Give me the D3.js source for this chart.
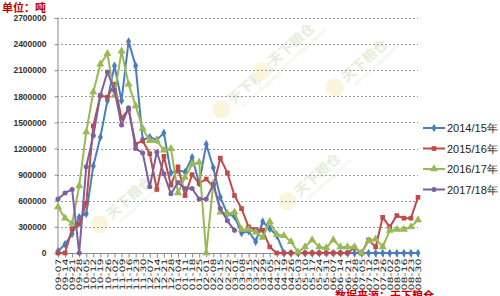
<!DOCTYPE html>
<html>
<head>
<meta charset="utf-8">
<script src="https://cdn.jsdelivr.net/npm/d3@7"></script>
<style>
  body { margin: 0; background: #fff; }
  svg { display: block; }
</style>
</head>
<body>
<div id="chart"></div>
<script>
// weekly dates
var weeks = ["09-07","09-14","09-21","09-28","10-05","10-12","10-19","10-26","11-02","11-09",
  "11-16","11-23","11-30","12-07","12-14","12-21","12-28","01-04","01-11","01-18",
  "01-25","02-01","02-08","02-15","02-22","03-01","03-08","03-15","03-22","03-29",
  "04-05","04-12","04-19","04-26","05-03","05-10","05-17","05-24","05-31","06-07",
  "06-14","06-21","06-28","07-05","07-12","07-19","07-26","08-02","08-09","08-16",
  "08-23","08-30"];

var s1415 = [20000,100000,220000,410000,450000,1000000,1330000,1750000,2150000,1750000,
  2430000,2150000,1300000,1330000,1300000,1380000,920000,950000,930000,1100000,
  800000,1250000,980000,640000,450000,420000,230000,250000,130000,360000,
  280000,200000,0,0,0,0,0,0,0,0,
  0,0,0,0,0,0,0,0,0,0,0,0];
var s1516 = [0,0,280000,330000,570000,1460000,1810000,1790000,1940000,1550000,
  1650000,1250000,1290000,1140000,730000,1110000,780000,990000,660000,900000,
  800000,850000,760000,1090000,920000,660000,510000,300000,270000,260000,
  70000,0,0,0,0,0,0,0,0,0,
  0,0,60000,0,150000,70000,410000,300000,430000,400000,400000,640000];
var s1617 = [530000,400000,340000,770000,1390000,1850000,2170000,2290000,1810000,2320000,
  1940000,1690000,1430000,1290000,1290000,1180000,1200000,690000,870000,1020000,
  1040000,0,800000,470000,450000,470000,270000,270000,240000,180000,
  360000,210000,200000,130000,10000,70000,150000,70000,60000,150000,
  70000,70000,70000,0,140000,160000,70000,260000,270000,270000,300000,380000];
var s1718 = [620000,690000,730000,0,990000,1350000,1810000,2080000,1870000,1470000,
  1670000,1200000,1150000,760000,1160000,910000,680000,810000,740000,740000,
  620000,620000,790000,510000,370000,260000];

var seriesNames = ["2014/15年","2015/16年","2016/17年","2017/18年"];
var seriesColors = ["#4a7ebb","#be4b48","#98b954","#7d60a0"];
var seriesMarkers = [d3.symbolDiamond, d3.symbolSquare, d3.symbolTriangle, d3.symbolCircle];
var markerSizes = [22, 22, 28, 20];
var yTicks = [0,300000,600000,900000,1200000,1500000,1800000,2100000,2400000,2700000];

var W = 500, H = 296;
var svg = d3.select("#chart").append("svg")
    .attr("width", W)
    .attr("height", H);

var x = d3.scalePoint().domain(weeks).range([58, 418]);
var y = d3.scaleLinear().domain([0, 2700000]).range([253, 18]);

// faint watermarks
var marks = [[110,215],[232,100],[272,62],[345,78],[298,192]];
marks.forEach(function (m) {
    var g = svg.append("g")
        .attr("transform", "translate(" + m[0] + "," + m[1] + ") rotate(-42)");
    g.append("circle").attr("cx", -14).attr("cy", 0).attr("r", 9)
        .attr("fill", "#faf5dc");
    g.append("text").attr("x", -2).attr("y", 5)
        .attr("font-family", "Noto Sans CJK SC").attr("font-size", 14)
        .attr("font-weight", "bold")
        .attr("fill", "#e6eedb")
        .text("天下粮仓");
    g.append("text").attr("x", 2).attr("y", 13)
        .attr("font-family", "Liberation Sans").attr("font-size", 5)
        .attr("fill", "#e9efe0")
        .text("www.tianxialiangcang.com");
});

// gridlines
svg.append("g").selectAll("line")
    .data(yTicks.slice(1))
    .enter().append("line")
    .attr("x1", 57).attr("x2", 418)
    .attr("y1", function (d) { return Math.round(y(d)) + 0.5; })
    .attr("y2", function (d) { return Math.round(y(d)) + 0.5; })
    .attr("stroke", "#9a9a9a")
    .attr("stroke-dasharray", "2,2")
    .attr("stroke-width", 1);

// y axis
var yAxis = svg.append("g")
    .attr("transform", "translate(57.5,0)")
    .call(d3.axisLeft(y).tickValues(yTicks).tickSize(3).tickSizeOuter(0).tickFormat(d3.format("d")));
yAxis.select(".domain").attr("stroke", "#8a8a8a");
yAxis.selectAll(".tick line").attr("stroke", "#8a8a8a");
yAxis.selectAll("text")
    .attr("font-family", "Liberation Sans")
    .attr("font-size", 8.5)
    .attr("font-weight", "bold")
    .attr("fill", "#333")
    .attr("x", -11);

// x axis
var xAxis = svg.append("g")
    .attr("transform", "translate(0,253.5)")
    .call(d3.axisBottom(x).tickSize(4).tickSizeOuter(0));
xAxis.select(".domain").attr("stroke", "#8a8a8a").attr("d", "M57,0H418");
xAxis.selectAll(".tick line").attr("stroke", "#8a8a8a");
xAxis.selectAll("text")
    .attr("font-family", "DejaVu Sans")
    .attr("font-size", 7.5)
    .attr("fill", "#222")
    .attr("text-anchor", "end")
    .attr("transform", "rotate(-90)")
    .attr("x", -5)
    .attr("y", 0)
    .attr("dy", "0.35em")
    .attr("textLength", 32)
    .attr("lengthAdjust", "spacingAndGlyphs");

// series
var allSeries = [s1415, s1516, s1617, s1718];
var line = d3.line()
    .x(function (d, i) { return x(weeks[i]); })
    .y(function (d) { return y(d); });

allSeries.forEach(function (vals, k) {
    svg.append("path")
        .datum(vals)
        .attr("fill", "none")
        .attr("stroke", seriesColors[k])
        .attr("stroke-width", 2)
        .attr("stroke-linejoin", "round")
        .attr("d", line);
    svg.append("g").selectAll("path")
        .data(vals)
        .enter().append("path")
        .attr("transform", function (d, i) {
            return "translate(" + x(weeks[i]) + "," + y(d) + ")";
        })
        .attr("d", d3.symbol().type(seriesMarkers[k]).size(markerSizes[k]))
        .attr("fill", seriesColors[k]);
});

// legend
var legend = svg.append("g").selectAll("g")
    .data(seriesNames)
    .enter().append("g")
    .attr("transform", function (d, i) { return "translate(423," + (128 + i * 20.5) + ")"; });
legend.append("line")
    .attr("x1", 0).attr("x2", 22)
    .attr("stroke", function (d, i) { return seriesColors[i]; })
    .attr("stroke-width", 2);
legend.append("path")
    .attr("transform", "translate(11,0)")
    .attr("d", function (d, i) { return d3.symbol().type(seriesMarkers[i]).size(markerSizes[i])(); })
    .attr("fill", function (d, i) { return seriesColors[i]; });
legend.append("text")
    .attr("x", 24).attr("y", 4)
    .attr("font-family", "Liberation Sans")
    .attr("font-size", 11)
    .attr("fill", "#222")
    .text(function (d) { return d; });

// unit
svg.append("text")
    .attr("x", 2).attr("y", 11.5)
    .attr("font-family", "Noto Sans CJK SC")
    .attr("font-size", 11)
    .attr("font-weight", "bold")
    .attr("fill", "#c00000")
    .text("单位：吨");

// source line, partly below the bottom edge as in the picture
svg.append("text")
    .attr("x", 335).attr("y", 300)
    .attr("font-family", "Noto Sans CJK SC")
    .attr("font-size", 11)
    .attr("font-weight", "bold")
    .attr("fill", "#c00000")
    .text("数据来源：天下粮仓");
</script>
</body>
</html>
